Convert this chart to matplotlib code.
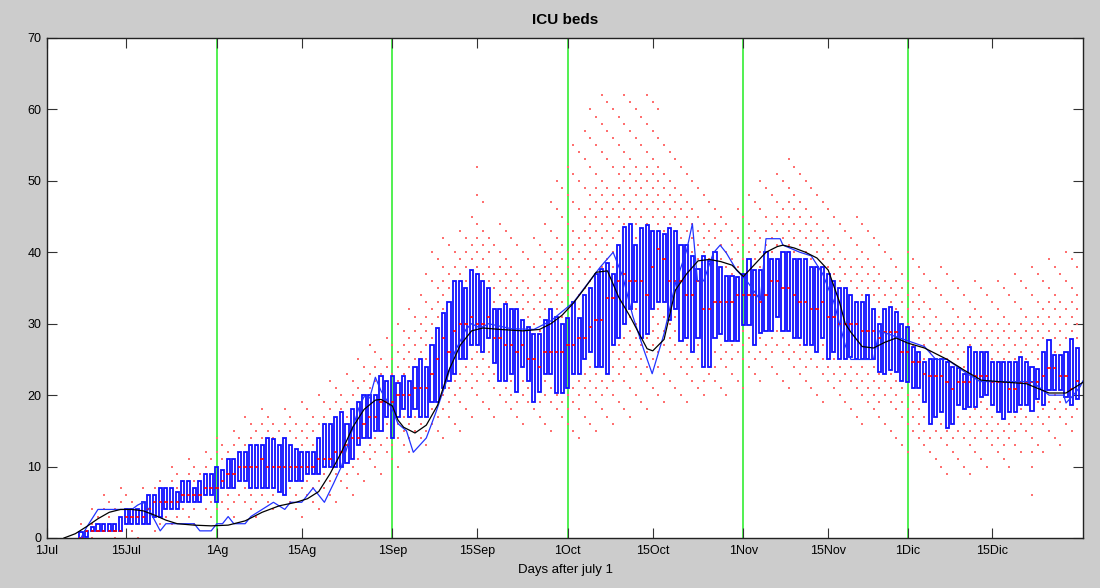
import numpy as np
import matplotlib
matplotlib.use("Agg")
import matplotlib.pyplot as plt

plt.rcParams['font.family'] = ['Liberation Sans', 'DejaVu Sans']

# days after july 1 for the daily boxes
days = list(range(6, 183))

# box bottom / top / median for each day
q1 = [0, 0.2, 1, 1, 1, 1, 1, 1, 2, 2,
      2, 2, 2, 3, 3, 4, 4, 4, 5, 5,
      5, 5, 6, 6, 5, 7, 7, 7, 8, 8,
      7, 7, 7, 7, 7, 6.5, 6, 8, 8, 8,
      9, 9, 9, 10, 10, 10, 10, 10.5, 11, 13,
      14, 14, 15, 15, 17, 14, 17, 18, 17, 18,
      17, 17, 19, 19, 21, 22, 23, 25, 25, 27,
      27, 26, 28, 24.5, 22, 22, 23, 20.4, 24, 22,
      19, 20.4, 23, 23, 20.3, 20.3, 21, 23, 23, 25,
      26, 24, 24, 23, 27, 28, 30, 32, 33, 28,
      28.5, 32, 33, 33, 30.5, 32, 27.6, 28, 26, 28,
      24, 24, 28, 28.5, 27.6, 27.6, 27.6, 29.8, 29.8, 27,
      28.7, 29, 29, 31, 29, 29, 28, 28, 27, 27,
      26, 28, 25, 26, 25, 25, 25.4, 25, 25, 25,
      25, 23.3, 23, 23.5, 23.3, 22, 21.8, 21, 21, 19,
      16, 17, 17.6, 15.4, 16, 18.6, 18, 18.4, 18.4, 19.8,
      20, 18.6, 17.6, 16.6, 17.6, 17.6, 18.6, 18.6, 17.8, 19.5,
      18.6, 20.7, 20.7, 20.7, 19.8, 18.6, 19.5]
q3 = [0.9, 1, 1.6, 2, 2, 2, 2, 3, 4, 4,
      4, 5, 6, 6, 7, 7, 7, 6.5, 8, 8,
      7, 8, 9, 9, 10, 9.5, 11, 11, 12, 12,
      13, 13, 13, 14, 13.8, 13, 14, 13, 12.5, 12,
      12, 12, 14, 16, 16, 17, 17.6, 16, 18, 19,
      20, 20, 20, 22.7, 22, 22.7, 21.7, 22.7, 22, 24,
      25, 24, 27, 29.4, 31.5, 33, 36, 36, 35, 37.5,
      37, 36, 35, 32, 32, 32.8, 32, 32, 30.5, 29.6,
      28.5, 28.5, 30.5, 32, 31, 30, 30.8, 33, 30.8, 34,
      35, 37, 37.6, 38.5, 37, 41, 43.6, 44, 41, 43.4,
      43.8, 43, 43, 42.5, 43.4, 43, 41, 41, 39.5, 37.7,
      39.5, 38.8, 40, 38, 36.7, 36.7, 36.5, 37, 39, 37.5,
      37.5, 40, 39, 39, 40, 40, 39, 39, 39, 38,
      38, 38, 37, 36, 35, 35, 34, 33, 33, 34,
      32, 30, 32, 32.3, 31.6, 30, 29.5, 26.7, 26, 24.6,
      25, 25, 25, 24.6, 24, 23.8, 23, 26.7, 26, 26,
      26, 24.6, 24.6, 24.6, 24.6, 24.6, 25.4, 24.6, 24, 23.7,
      26, 27.7, 25.6, 25.6, 26, 27.9, 26.6]
med = [0, 1, 1, 1, 1, 1, 1, 1, 3, 3,
       3, 3, 4, 5, 5, 5, 5, 5, 6, 6,
       6, 6, 7, 7, 7, 8, 9, 9, 10, 10,
       10, 10, 11, 10, 10, 10, 10, 10, 10, 10,
       10, 10, 11, 11, 11, 12, 12, 13, 14, 14,
       16, 17, 17, 19, 19, 19, 20, 20, 20, 21,
       21, 21, 23, 25, 28, 26, 29, 30, 30, 31,
       30, 30, 31, 28, 28, 27, 27, 26, 27, 25,
       25, 24, 26, 26, 26, 26, 27, 27, 28, 28,
       29.5, 30.5, 30.5, 33.6, 33.6, 36, 37, 36, 36, 36,
       34, 38, 40.5, 39, 36, 36, 36, 34, 34, 36,
       32, 32, 33, 33, 33, 33, 34, 34, 34, 34,
       33, 34, 36, 36, 35, 35, 34, 33, 33, 32,
       32, 33, 31, 31, 30, 30, 30, 30, 29, 29,
       29, 28, 28.8, 28.8, 28.8, 26, 26, 24.7, 24.7, 23,
       22.7, 22.7, 22.7, 21.8, 20.9, 21.8, 21.8, 21.8, 22.7, 22.7,
       22.7, 21.8, 21.8, 21.8, 20.9, 20.9, 21.8, 21.8, 21.8, 21.8,
       22.7, 23.8, 23.8, 22.7, 22.7, 20.9, 22]

# lowest / highest scattered value (red dots) for each day
lo = [0, 0, 0, 0, 0, 0, 0, 0, 0, 0,
      0, 1, 1, 1, 1, 1, 1, 2, 2, 2,
      2, 2, 2, 3, 3, 2, 2, 3, 3, 3,
      3, 3, 3, 4, 4, 4, 4, 4, 4, 3,
      4, 4, 4, 5, 5, 5, 6, 6, 6, 7,
      8, 8, 9, 9, 10, 10, 10, 11, 11, 12,
      12, 13, 13, 13, 14, 14, 15, 15, 16, 16,
      17, 17, 17, 17, 17, 17, 16, 16, 16, 16,
      16, 15, 15, 15, 15, 14, 14, 14, 14, 15,
      15, 15, 16, 16, 16, 17, 17, 17, 17, 18,
      18, 18, 18, 18, 19, 19, 19, 19, 19, 20,
      20, 20, 20, 20, 20, 21, 21, 21, 21, 21,
      22, 22, 22, 22, 22, 21, 21, 21, 20, 20,
      20, 19, 19, 18, 18, 18, 17, 17, 16, 16,
      15, 14, 14, 13, 13, 12, 12, 12, 11, 11,
      10, 10, 10, 9, 9, 9, 8, 8, 9, 9,
      10, 10, 10, 9, 10, 11, 11, 12, 6, 12,
      12, 13, 13, 13, 14, 14, 15]
hi = [3, 4, 4, 5, 6, 6, 7, 7, 7, 7,
      7, 7, 8, 8, 9, 9, 10, 11, 10, 11,
      11, 11, 12, 12, 14, 15, 14, 15, 16, 17,
      17, 18, 19, 18, 19, 17, 18, 18, 19, 19,
      20, 20, 21, 21, 22, 22, 22, 24, 25, 26,
      26, 27, 28, 28, 29, 30, 30, 32, 32, 34,
      36, 38, 40, 42, 42, 43, 42, 44, 45, 46,
      52, 48, 45, 44, 44, 43, 42, 42, 41, 42,
      43, 44, 46, 48, 50, 52, 53, 55, 56, 58,
      60, 62, 62, 63, 60, 62, 63, 62, 60, 61,
      62, 63, 60, 58, 56, 55, 53, 52, 50, 50,
      50, 49, 48, 48, 47, 46, 46, 47, 48, 49,
      50, 50, 51, 52, 53, 54, 53, 52, 51, 50,
      50, 49, 48, 47, 46, 46, 45, 45, 44, 44,
      43, 42, 42, 41, 41, 40, 40, 40, 39, 39,
      38, 38, 38, 37, 37, 37, 36, 36, 36, 36,
      36, 36, 37, 37, 37, 37, 38, 38, 38, 39,
      39, 40, 40, 40, 40, 40, 40]

# observed series (blue) and smoothed series (black)
blue_x = [6, 7, 9, 12, 15, 16, 17, 18, 20, 21, 24, 26, 27, 29, 30, 31, 32, 33, 35, 36,
          38, 40, 42, 43, 45, 47, 49, 50.6, 52, 53.5, 55, 56, 57, 58, 59, 60, 61, 62, 63.5, 64.7,
          67, 68.7, 70.5, 72, 74, 75, 76.5, 78, 82, 86, 89, 93, 97.7, 100, 101.7, 103.5, 105.4, 106.9, 109, 111,
          113, 114, 114.9, 116, 117.7, 118.9, 120, 121.8, 123.6, 125.4, 126, 127, 129.5, 130, 133, 135, 137, 139, 140, 141,
          142, 146, 147, 155, 157, 159, 162, 164.8, 174, 177, 179.6, 180, 181.3, 182.5, 183]
blue_y = [0, 1.5, 4, 4, 4, 4.6, 5, 4, 1, 2, 2, 2, 1, 1, 2, 2, 3, 2, 2, 3,
          4, 5, 4, 5, 5, 7, 5, 7.6, 10, 14, 18, 19.8, 19.6, 22.5, 20.6, 19.3, 18, 16, 15, 12,
          14, 17.6, 21.8, 26, 29.2, 30, 29.4, 30, 29.3, 29.2, 30.4, 33, 37.9, 40, 36.6, 31, 26.4, 23, 28.6, 35.6,
          40.3, 44, 36, 36, 39.9, 41, 39.9, 37.5, 36, 34, 33.3, 41.9, 41.9, 41, 40, 39.5, 37, 33, 30, 27,
          25, 25, 29, 26.8, 25, 25, 23.3, 21.9, 21.9, 20, 20, 18.9, 20, 21.2, 22]
black_x = [3, 5, 7, 9, 11, 13, 15, 17, 19, 21, 23, 26, 29, 32, 35, 38, 41, 44, 46, 48,
           50, 52, 54, 56, 58, 59, 61, 62, 63, 65, 67, 69, 71, 73, 75, 77, 80, 84, 87, 89,
           91, 93, 95, 97, 99, 101, 103, 105, 106, 107, 109, 111, 113, 115, 117, 119, 121, 123, 125, 127,
           129, 130, 132, 134, 136, 138, 140, 141, 142, 144, 146, 148, 150, 152, 155, 159, 162, 165, 168, 173,
           177, 180, 183]
black_y = [0, 0.6, 1.6, 2.7, 3.6, 4, 4, 3.8, 3.2, 2.5, 2, 1.8, 1.7, 1.8, 2.4, 3.6, 4.5, 5, 5.5, 6.5,
           9, 12, 15.5, 18, 19.3, 19.4, 18.5, 16.5, 15.5, 14.7, 15.8, 18.6, 23.5, 27, 29, 29.4, 29.2, 29, 29.2, 30,
           31.2, 32.9, 35, 37.2, 37.4, 33.7, 31, 28, 26.5, 26.2, 27.8, 34.7, 37, 38.8, 39, 38.7, 38.2, 36.6, 38.3, 40,
           40.8, 41, 40.6, 40, 39.2, 37.5, 33, 30, 28.8, 26.8, 26.6, 27.4, 28, 27.3, 26.6, 25, 23.5, 22.1, 21.9, 21.6,
           20.3, 20.3, 21.8]

month_lines = [30, 61, 92, 123, 152]
tick_pos = [0, 14, 30, 45, 61, 76, 92, 107, 123, 138, 152, 167]
tick_lab = ['1Jul', '15Jul', '1Ag', '15Ag', '1Sep', '15Sep', '1Oct', '15Oct',
            '1Nov', '15Nov', '1Dic', '15Dic']

fig = plt.figure(figsize=(11, 5.88), dpi=100, facecolor='#cccccc')
ax = fig.add_axes([47 / 1100, 50 / 588, 1036 / 1100, 500 / 588])
ax.set_facecolor('white')

# red dots at integer values outside each box (thinned, sparser far from the box)
dx, dy = [], []
for d, a, b, l, h in zip(days, q1, q3, lo, hi):
    for v in range(int(l), int(h) + 1):
        if a <= v <= b:
            continue
        far = (v > b and v - b > 0.5 * (h - b)) or (v < a and a - v > 0.5 * (a - l))
        step = 4 if far else 2
        if (v + d) % step == 0:
            dx.append(d)
            dy.append(v)
ax.scatter(dx, dy, s=1.3, marker='s', color='#ff7070', linewidths=0, zorder=2)

for m in month_lines:
    ax.axvline(m, color='#33ee33', lw=1.2, zorder=1)

heights = [b - a for a, b in zip(q1, q3)]
ax.bar(days, heights, bottom=q1, width=0.55, fill=False, edgecolor='#1010ff',
       linewidth=1.3, zorder=3)
ax.hlines(med, [d - 0.3 for d in days], [d + 0.3 for d in days], color='red',
          lw=1.2, zorder=4)

ax.plot(blue_x, blue_y, color='#2233ff', lw=0.9, zorder=5)
ax.plot(black_x, black_y, color='black', lw=0.9, zorder=6)

ax.set_xlim(0, 183)
ax.set_ylim(0, 70)
ax.set_xticks(tick_pos)
ax.set_xticklabels(tick_lab)
ax.set_yticks(range(0, 71, 10))
ax.tick_params(direction='in', length=7, top=True, right=True, labelsize=9,
               colors='#333333', labelcolor='black')
ax.tick_params(axis='x', pad=5)
ax.tick_params(axis='y', pad=4)
for s in ax.spines.values():
    s.set_color('#222222')
    s.set_linewidth(1)

ax.set_title('ICU beds', fontsize=11, fontweight='bold', pad=10)
ax.set_xlabel('Days after july 1', fontsize=9.5, labelpad=5)

fig.savefig('out.png', dpi=100, facecolor=fig.get_facecolor())
